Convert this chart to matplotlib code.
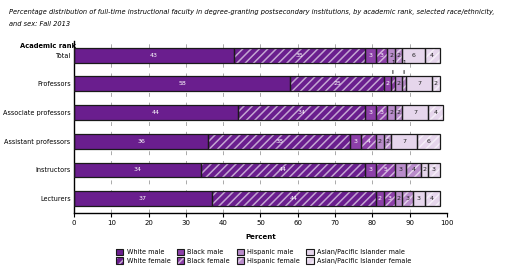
import matplotlib
matplotlib.use("Agg")
import matplotlib.pyplot as plt
from matplotlib.patches import Patch
import numpy as np

ranks = ["Total", "Professors", "Associate professors", "Assistant professors", "Instructors", "Lecturers"]
series = ["White male", "White female", "Black male", "Black female",
          "Hispanic male", "Hispanic female", "Asian/Pacific Islander male", "Asian/Pacific Islander female"]
white_male = [43, 58, 44, 36, 34, 37]
white_female = [35, 25, 34, 38, 44, 44]
black_male = [3, 2, 3, 3, 3, 2]
black_female = [3, 1, 3, 4, 5, 3]
hispanic_male = [2, 2, 2, 2, 3, 2]
hispanic_female = [2, 1, 2, 2, 4, 3]
asian_male = [6, 7, 7, 7, 2, 3]
asian_female = [4, 2, 4, 6, 3, 4]
values = [white_male, white_female, black_male, black_female,
          hispanic_male, hispanic_female, asian_male, asian_female]
xticks = [0, 10, 20, 30, 40, 50, 60, 70, 80, 90, 100]

colors = ["#6a1e8e", "#6a1e8e", "#8c3fa8", "#8c3fa8", "#b98ccb", "#b98ccb", "#e6d6ec", "#e6d6ec"]
hatched = [False, True, False, True, False, True, False, True]
txtcol = ["white", "white", "white", "white", "#222222", "#222222", "#222222", "#222222"]
hatch_col = (1, 1, 1, 0.6)

plt.rcParams["hatch.linewidth"] = 1.1
fig = plt.figure(figsize=(5.12, 2.68), dpi=100)
ax = fig.add_axes([0.1445, 0.205, 0.7285, 0.643])

y = np.arange(len(ranks))
left = np.zeros(len(ranks))
h = 0.52
for i, vals in enumerate(values):
    vals = np.array(vals, dtype=float)
    if hatched[i]:
        ax.barh(y, vals, left=left, height=h, color=colors[i], edgecolor=hatch_col,
                hatch="////", linewidth=0, zorder=2)
    else:
        ax.barh(y, vals, left=left, height=h, color=colors[i], linewidth=0, zorder=2)
    ax.barh(y, vals, left=left, height=h, fill=False, edgecolor="#1a1a1a", linewidth=0.9, zorder=3)
    for j, v in enumerate(vals):
        cx = left[j] + v / 2
        if v >= 2:
            ax.text(cx, y[j], f"{int(v)}", ha="center", va="center", fontsize=4.5,
                    color=txtcol[i], zorder=4)
        else:
            ax.annotate(f"{int(v)}", xy=(cx, y[j] - h / 2), xytext=(cx, y[j] - h / 2 - 0.4),
                        ha="center", va="bottom", fontsize=4,
                        arrowprops=dict(arrowstyle="-", lw=0.7, color="#222222"), zorder=4)
    left += vals

ax.set_xlim(0, 100)
ax.set_ylim(5.5, -0.5)
ax.set_xticks(xticks)
ax.set_xticklabels([str(t) for t in xticks], fontsize=5)
ax.set_yticks(y)
ax.set_yticklabels(ranks, fontsize=4.7)
ax.tick_params(axis="y", length=0, pad=2.5)
ax.tick_params(axis="x", length=3, width=0.8, pad=2)
for s in ["top", "right"]:
    ax.spines[s].set_visible(False)
ax.spines["left"].set_linewidth(1.0)
ax.spines["bottom"].set_linewidth(1.0)
for t in xticks[1:]:
    ax.axvline(t, color="#aaaaaa", lw=0.7, ls=(0, (4, 6)), zorder=1)
ax.set_xlabel("Percent", fontsize=5, fontweight="bold", labelpad=6)

fig.text(0.018, 0.955, "Percentage distribution of full-time instructional faculty in degree-granting postsecondary institutions, by academic rank, selected race/ethnicity,",
         fontsize=4.8, style="italic", ha="left", va="center")
fig.text(0.018, 0.91, "and sex: Fall 2013", fontsize=4.8, style="italic", ha="left", va="center")
fig.text(0.148, 0.828, "Academic rank", fontsize=4.9, fontweight="bold", ha="right", va="center")

handles = []
for i, name in enumerate(series):
    if hatched[i]:
        base = Patch(facecolor=colors[i], edgecolor=hatch_col, hatch="////", linewidth=0)
    else:
        base = Patch(facecolor=colors[i], linewidth=0)
    border = Patch(fill=False, edgecolor="#1a1a1a", linewidth=0.8)
    handles.append((base, border))
leg = fig.legend(handles=handles, labels=series, ncol=4, loc="center", bbox_to_anchor=(0.515, 0.044),
                 frameon=False, fontsize=4.7, handlelength=1.1, handleheight=1.1, columnspacing=1.0,
                 handletextpad=0.5, labelspacing=0.35)
fig.savefig("out.png", dpi=100)
